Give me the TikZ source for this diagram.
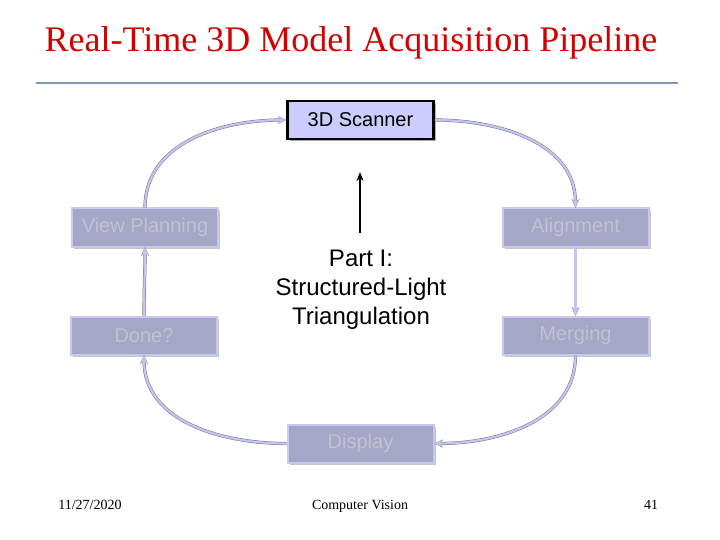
\documentclass[tikz,border=0pt]{standalone}
\usepackage{fontspec}
\setmainfont{Liberation Serif}
\setsansfont{Liberation Sans}
\usepackage{tikz}
\usetikzlibrary{positioning,arrows.meta,shadows}

\definecolor{titlered}{RGB}{210,0,0}
\definecolor{rulebl}{RGB}{120,155,190}
\definecolor{scanfill}{RGB}{204,204,255}
\definecolor{dimfill}{RGB}{166,166,198}
\definecolor{dimline}{RGB}{200,200,240}
\definecolor{dimtext}{RGB}{194,194,210}
\definecolor{flowcol}{RGB}{196,196,238}
\definecolor{flowedge}{RGB}{120,120,140}

\tikzset{
  stagebox/.style={rectangle,minimum width=146pt,minimum height=38pt,inner sep=0pt,
    font=\sffamily\fontsize{20}{20}\selectfont},
  activebox/.style={stagebox,fill=scanfill,draw=black,line width=2.6pt,
    drop shadow={shadow xshift=2pt,shadow yshift=-2pt,fill=gray!60,opacity=1}},
  dimbox/.style={stagebox,fill=dimfill,draw=dimline,line width=2pt,text=dimtext,
    drop shadow={shadow xshift=2pt,shadow yshift=-2pt,fill=gray!45,opacity=1}},
  flowedge/.style={draw=flowedge,line width=3.2pt,-{Stealth[length=9pt,width=8pt]}},
  flow/.style={draw=flowcol,line width=2.2pt,-{Stealth[length=8pt,width=7pt]}},
  footer/.style={font=\fontsize{14}{14}\selectfont,anchor=base},
}

\begin{document}
\begin{tikzpicture}[x=1pt,y=-1pt]
\useasboundingbox (0,0) rectangle (720,540);

% title and rule
\node[text=titlered,font=\fontsize{36}{36}\selectfont,anchor=base] (title) at (351,52)
  {Real-Time 3D Model Acquisition Pipeline};
\draw[rulebl,line width=1.8pt] (36,83) -- (678,83);

% stages of the loop
\node[activebox] (scanner) at (360.5,120) {3D Scanner};
\node[dimbox] (viewplan) at (145,227.5) {View Planning};
\node[dimbox] (align) at (575.5,227.5) {Alignment};
\node[dimbox] (done) at (144,335.5) {Done?};
\node[dimbox] (merge) at (575.5,335.5) {Merging};
\node[dimbox] (display) at (360.5,443.5) {Display};

% loop connectors
\foreach \from/\to/\aout/\ain in {viewplan.north/scanner.west/90/180,
    scanner.east/align.north/0/90,
    align.south/merge.north/-90/90,
    merge.south/display.east/-90/0,
    display.west/done.south/180/-90,
    done.north/viewplan.south/90/-90}{
  \draw[flowedge,shorten >=-0.5pt] (\from) to[out=\aout,in=\ain] (\to);
  \draw[flow] (\from) to[out=\aout,in=\ain] (\to);
}

% part I
\node[font=\sffamily\fontsize{24}{29}\selectfont,align=center,anchor=north] (part) at (361,246)
  {Part I:\\Structured-Light\\Triangulation};
\coordinate (tail) at (360,233);
\coordinate (tip) at (360,172);
\draw[black,line width=2.6pt,-{Stealth[length=9pt,width=7pt]}] (tail) -- (tip);

% footer
\node[footer] (date) at (90,509) {11/27/2020};
\node[footer] (course) at (360,509) {Computer Vision};
\node[footer] (page) at (651,509) {41};
\end{tikzpicture}
\end{document}
